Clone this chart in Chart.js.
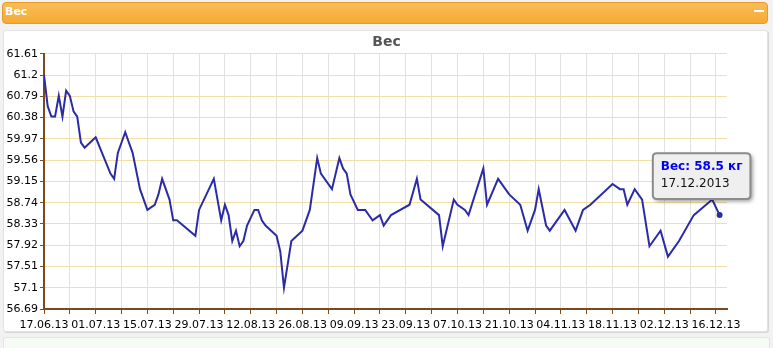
<!DOCTYPE html>
<html>
<head>
<meta charset="utf-8">
<script src="https://cdn.jsdelivr.net/npm/chart.js@4/dist/chart.umd.min.js"></script>
<style>
html,body{margin:0;padding:0;}
body{width:773px;height:348px;background:#f2f2f2;position:relative;overflow:hidden;font-family:'DejaVu Sans',sans-serif;}
#hdr{position:absolute;left:2px;top:2px;width:764px;height:20px;border:1px solid #e99a22;border-radius:4px;background:linear-gradient(#f8bc58,#f5ab34);}
#hdr span{position:absolute;left:2px;top:2px;line-height:13px;color:#fff;font-weight:bold;font-size:11px;}
#hdr i{position:absolute;right:3px;top:7px;width:10px;height:2px;background:#fff;}
#panel{position:absolute;left:3px;top:30px;width:763px;height:300px;background:#fff;border:1px solid #e2e2e2;border-radius:3px;box-shadow:1px 1px 0 #d6d6d6;}
#foot{position:absolute;left:3px;top:337px;width:765px;height:12px;background:#f7fbf5;border:1px solid #e4e4e4;border-bottom:none;border-radius:3px 3px 0 0;}
canvas{position:absolute;left:0;top:0;}
</style>
</head>
<body>
<div id="hdr"><span>Вес</span><i></i></div>
<div id="panel"></div>
<div id="foot"></div>
<canvas id="c" width="773" height="348"></canvas>
<script>
// ---- data ----
const chartTitle = 'Вес';
const seriesName = 'Вес';
const unit = 'кг';
const dates = [
  '17.06.2013','18.06.2013','19.06.2013','20.06.2013','21.06.2013','22.06.2013','23.06.2013','24.06.2013','25.06.2013','26.06.2013','27.06.2013','28.06.2013',
  '01.07.2013','05.07.2013','06.07.2013','07.07.2013','09.07.2013','11.07.2013','13.07.2013','15.07.2013','17.07.2013','18.07.2013','19.07.2013','21.07.2013','22.07.2013','23.07.2013','28.07.2013','29.07.2013',
  '02.08.2013','04.08.2013','05.08.2013','06.08.2013','07.08.2013','08.08.2013','09.08.2013','10.08.2013','11.08.2013','13.08.2013','14.08.2013','15.08.2013','16.08.2013','19.08.2013','20.08.2013','21.08.2013','23.08.2013','26.08.2013','28.08.2013','30.08.2013','31.08.2013',
  '03.09.2013','05.09.2013','06.09.2013','07.09.2013','08.09.2013','10.09.2013','12.09.2013','14.09.2013','16.09.2013','17.09.2013','19.09.2013','24.09.2013','26.09.2013','27.09.2013',
  '02.10.2013','03.10.2013','06.10.2013','07.10.2013','09.10.2013','10.10.2013','14.10.2013','15.10.2013','18.10.2013','21.10.2013','24.10.2013','26.10.2013','28.10.2013','29.10.2013','31.10.2013',
  '01.11.2013','05.11.2013','08.11.2013','10.11.2013','12.11.2013','18.11.2013','20.11.2013','21.11.2013','22.11.2013','24.11.2013','26.11.2013','28.11.2013',
  '01.12.2013','03.12.2013','06.12.2013','10.12.2013','15.12.2013','17.12.2013'
];
const weights = [
  61.2,60.6,60.4,60.4,60.8,60.4,60.9,60.8,60.5,60.4,59.9,59.8,
  60.0,59.3,59.2,59.7,60.1,59.7,59.0,58.6,58.7,58.9,59.2,58.8,58.4,58.4,58.1,58.6,
  59.2,58.4,58.7,58.5,58.0,58.2,57.9,58.0,58.3,58.6,58.6,58.4,58.3,58.1,57.8,57.1,58.0,58.2,58.6,59.6,59.3,
  59.0,59.6,59.4,59.3,58.9,58.6,58.6,58.4,58.5,58.3,58.5,58.7,59.2,58.8,
  58.5,57.9,58.8,58.7,58.6,58.5,59.4,58.7,59.2,58.9,58.7,58.2,58.6,59.0,58.3,
  58.2,58.6,58.2,58.6,58.7,59.1,59.0,59.0,58.7,59.0,58.8,57.9,
  58.2,57.7,58.0,58.5,58.8,58.5
];
const xTickLabels = ['17.06.13','01.07.13','15.07.13','29.07.13','12.08.13','26.08.13','09.09.13','23.09.13','07.10.13','21.10.13','04.11.13','18.11.13','02.12.13','16.12.13'];
const xAxisEnd = '19.12.13';
const yTickLabels = ['56.69','57.1','57.51','57.92','58.33','58.74','59.15','59.56','59.97','60.38','60.79','61.2','61.61'];

// ---- helpers ----
function toUTC(s){
  const p = s.split('.').map(Number);
  const y = p[2] < 100 ? 2000 + p[2] : p[2];
  return Date.UTC(y, p[1]-1, p[0]);
}
const origin = toUTC(dates[0]);
const dayOf = s => Math.round((toUTC(s) - origin) / 86400000);
const points = dates.map((d,i) => ({x: dayOf(d), y: weights[i]}));
const majorDays = xTickLabels.map(dayOf);
const xTicks = [];
majorDays.forEach((d,i) => { xTicks.push(d); if (i < majorDays.length-1) xTicks.push((d + majorDays[i+1]) / 2); });
const yVals = yTickLabels.map(parseFloat);

const BROWN = '#7b4a1d';
Chart.defaults.font.family = "'DejaVu Sans', sans-serif";
Chart.defaults.font.size = 11;
Chart.defaults.color = '#000';

Chart.Tooltip.positioners.aboveLeft = function(items){
  if (!items.length) return false;
  const el = items[0].element;
  return {x: el.x - 18, y: el.y - 16};
};

const tooltipShadow = {
  id: 'tooltipShadow',
  beforeTooltipDraw(chart, args){
    const t = args.tooltip;
    if (!t || !t.opacity) return;
    const c = chart.ctx;
    c.save();
    c.shadowColor = 'rgba(0,0,0,0.45)';
    c.shadowBlur = 4; c.shadowOffsetX = 2; c.shadowOffsetY = 2;
    c.fillStyle = '#efefef';
    c.beginPath();
    if (c.roundRect) c.roundRect(t.x, t.y, t.width, t.height, 4); else c.rect(t.x, t.y, t.width, t.height);
    c.fill();
    c.restore();
  }
};

const lastIdx = weights.length - 1;
const chart = new Chart(document.getElementById('c'), {
  type: 'line',
  data: {
    datasets: [{
      label: seriesName,
      data: points,
      borderColor: '#2b2ba8',
      backgroundColor: '#2b2ba8',
      borderWidth: 2,
      tension: 0,
      fill: false,
      pointRadius: ctx => ctx.dataIndex === lastIdx ? 3 : 0,
      pointHoverRadius: ctx => ctx.dataIndex === lastIdx ? 3 : 0,
      pointBorderWidth: 0
    }]
  },
  plugins: [tooltipShadow],
  options: {
    responsive: false,
    animation: false,
    events: [],
    layout: {padding: 0},
    plugins: {
      legend: {display: false},
      title: {
        display: true, text: chartTitle, color: '#555',
        font: {size: 14, weight: 'bold'},
        padding: {top: 33.5, bottom: 3.5}
      },
      tooltip: {
        enabled: true,
        position: 'aboveLeft',
        xAlign: 'center', yAlign: 'bottom',
        caretSize: 0, caretPadding: 0,
        backgroundColor: '#efefef',
        borderColor: '#8c8c8c', borderWidth: 2, cornerRadius: 4,
        displayColors: false,
        titleColor: '#0000ee', titleFont: {size: 12, weight: 'bold'},
        bodyColor: '#111', bodyFont: {size: 12},
        titleMarginBottom: 3,
        padding: {top: 6, bottom: 8, left: 8, right: 8},
        callbacks: {
          title: items => seriesName + ': ' + weights[items[0].dataIndex] + ' ' + unit,
          label: item => dates[item.dataIndex]
        }
      }
    },
    scales: {
      x: {
        type: 'linear',
        min: 0, max: dayOf(xAxisEnd),
        afterFit: s => { s.height = 39; },
        afterBuildTicks: s => { s.ticks = xTicks.map(v => ({value: v})); },
        grid: {color: '#e2e2e2', lineWidth: 1, tickColor: BROWN, tickLength: 5, drawTicks: true},
        border: {display: true, color: BROWN, width: 2},
        ticks: {
          autoSkip: false, maxRotation: 0, minRotation: 0, padding: 5,
          callback: v => { const i = majorDays.indexOf(v); return i >= 0 ? xTickLabels[i] : ''; }
        }
      },
      y: {
        min: yVals[0], max: yVals[yVals.length-1],
        afterFit: s => { s.width = 44; },
        afterBuildTicks: s => { s.ticks = yVals.map(v => ({value: v})); },
        grid: {color: '#f3dfa3', lineWidth: 1, tickColor: BROWN, tickLength: 4, drawTicks: true},
        border: {display: true, color: BROWN, width: 2},
        ticks: {
          padding: 2,
          callback: v => { const i = yVals.findIndex(t => Math.abs(t - v) < 1e-6); return i >= 0 ? yTickLabels[i] : ''; }
        }
      },
      yRight: {
        position: 'right',
        afterFit: s => { s.width = 46; },
        grid: {display: false},
        border: {display: false},
        ticks: {display: false}
      }
    }
  }
});

const pt = chart.getDatasetMeta(0).data[lastIdx];
chart.tooltip.setActiveElements([{datasetIndex: 0, index: lastIdx}], {x: pt.x, y: pt.y});
chart.draw();
</script>
</body>
</html>
